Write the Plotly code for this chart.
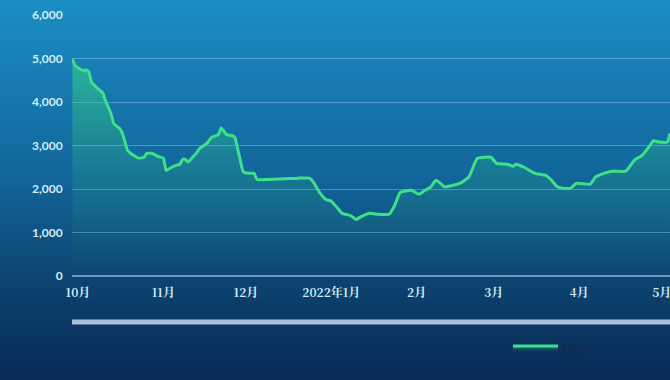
import base64
import plotly.graph_objects as go

# ---- data ----
dates = [
    "2021-09-29", "2021-09-30", "2021-10-01", "2021-10-03", "2021-10-04", "2021-10-05",
    "2021-10-06", "2021-10-08", "2021-10-10", "2021-10-11", "2021-10-13", "2021-10-14",
    "2021-10-16", "2021-10-17", "2021-10-18", "2021-10-19", "2021-10-21", "2021-10-23",
    "2021-10-25", "2021-10-26", "2021-10-28", "2021-10-30", "2021-11-01", "2021-11-02",
    "2021-11-03", "2021-11-05", "2021-11-07", "2021-11-08", "2021-11-09", "2021-11-10",
    "2021-11-12", "2021-11-13", "2021-11-14", "2021-11-17", "2021-11-18", "2021-11-19",
    "2021-11-21", "2021-11-22", "2021-11-24", "2021-11-26", "2021-11-27", "2021-11-28",
    "2021-11-29", "2021-11-30", "2021-12-02", "2021-12-04", "2021-12-05", "2021-12-09",
    "2021-12-17", "2021-12-20", "2021-12-24", "2021-12-25", "2021-12-28", "2021-12-30",
    "2022-01-01", "2022-01-03", "2022-01-05", "2022-01-08", "2022-01-10", "2022-01-12",
    "2022-01-15", "2022-01-18", "2022-01-22", "2022-01-24", "2022-01-26", "2022-01-30",
    "2022-02-02", "2022-02-04", "2022-02-06", "2022-02-08", "2022-02-10", "2022-02-11",
    "2022-02-14", "2022-02-17", "2022-02-20", "2022-02-23", "2022-02-28", "2022-03-02",
    "2022-03-06", "2022-03-08", "2022-03-09", "2022-03-12", "2022-03-16", "2022-03-20",
    "2022-03-22", "2022-03-24", "2022-03-26", "2022-03-29", "2022-03-31", "2022-04-05",
    "2022-04-07", "2022-04-10", "2022-04-13", "2022-04-18", "2022-04-21", "2022-04-24",
    "2022-04-26", "2022-04-28", "2022-04-30", "2022-05-03", "2022-05-04",
]
bdi = [
    4980, 4830, 4790, 4720, 4740, 4680,
    4440, 4320, 4210, 4030, 3730, 3500,
    3400, 3300, 3100, 2890, 2780, 2710,
    2730, 2820, 2820, 2750, 2710, 2430,
    2460, 2530, 2570, 2680, 2680, 2620,
    2760, 2820, 2920, 3060, 3150, 3200,
    3250, 3400, 3250, 3230, 3180, 2920,
    2650, 2400, 2360, 2360, 2220, 2220,
    2240, 2250, 2250, 2200, 1900, 1760,
    1720, 1580, 1440, 1390, 1300, 1370,
    1440, 1420, 1420, 1620, 1920, 1970,
    1880, 1970, 2040, 2200, 2110, 2050,
    2080, 2140, 2280, 2700, 2730, 2590,
    2570, 2520, 2570, 2500, 2360, 2310,
    2200, 2050, 2020, 2020, 2130, 2110,
    2280, 2360, 2410, 2410, 2660, 2780,
    2940, 3110, 3080, 3080, 3280,
]
month_ticks = ["2021-10-01", "2021-11-01", "2021-12-01", "2022-01-01",
               "2022-02-01", "2022-03-01", "2022-04-01", "2022-05-01"]
month_labels = ["10月", "11月", "12月", "2022年1月", "2月", "3月", "4月", "5月"]
y_ticks = [0, 1000, 2000, 3000, 4000, 5000, 6000]

# ---- layout geometry ----
W, H = 670, 380
ML, MR, MT, MB = 72, 0, 15, 104
PW, PH = W - ML - MR, H - MT - MB

svg = f"""<svg xmlns='http://www.w3.org/2000/svg' width='{W}' height='{H}' preserveAspectRatio='none'>
<defs><linearGradient id='g' x1='0' y1='0' x2='0' y2='1'>
<stop offset='0' stop-color='#1b8ec3'/>
<stop offset='0.45' stop-color='#12679c'/>
<stop offset='0.75' stop-color='#0c426f'/>
<stop offset='1' stop-color='#072a56'/>
</linearGradient></defs>
<rect width='{W}' height='{H}' fill='url(#g)'/></svg>"""
bg_src = "data:image/svg+xml;base64," + base64.b64encode(svg.encode()).decode()

fig = go.Figure()
fig.add_trace(go.Scatter(
    x=dates, y=bdi, name="BDI", mode="lines",
    line=dict(color="#3fe08a", width=3, shape="spline", smoothing=0.4),
    fill="tozeroy",
    fillgradient=dict(type="vertical", start=0, stop=5000,
                      colorscale=[[0, "rgba(50,200,120,0.0)"],
                                  [0.5, "rgba(50,200,120,0.20)"],
                                  [1, "rgba(60,220,130,0.55)"]]),
))

def py(px_y):
    return (MT + PH - px_y) / PH

fig.update_layout(
    width=W, height=H,
    margin=dict(l=ML, r=MR, t=MT, b=MB),
    paper_bgcolor="#0f5585",
    plot_bgcolor="rgba(0,0,0,0)",
    showlegend=True,
    legend=dict(orientation="h", x=(508 - ML) / PW, y=py(348), xanchor="left", yanchor="middle",
                itemwidth=45,
                bgcolor="rgba(0,0,0,0)", font=dict(color="#14284a", size=12, family="Lato")),
    images=[dict(source=bg_src, xref="paper", yref="paper",
                 x=-ML / PW, y=1 + MT / PH, sizex=W / PW, sizey=H / PH,
                 sizing="stretch", layer="below", xanchor="left", yanchor="top")],
    shapes=[dict(type="rect", xref="paper", yref="paper",
                 x0=0, x1=1, y0=py(324.5), y1=py(319.5),
                 fillcolor="#a9c0d6", line=dict(width=0), layer="above")],
    xaxis=dict(
        type="date",
        range=["2021-09-28 20:00", "2022-05-04"],
        tickvals=month_ticks, ticktext=month_labels,
        ticklabeloverflow="allow",
        showgrid=False, zeroline=False, showline=False,
        ticks="outside", ticklen=6, tickcolor="rgba(0,0,0,0)",
        tickfont=dict(color="#d2ecf6", size=12, family="Noto Serif CJK SC, Noto Sans CJK SC", weight="bold"),
    ),
    yaxis=dict(
        range=[0, 6000],
        tickvals=y_ticks, tickformat=",",
        showgrid=True, gridcolor="rgba(190,225,245,0.35)", gridwidth=1,
        zeroline=True, zerolinecolor="rgba(190,225,245,0.55)", zerolinewidth=2,
        showline=False,
        ticks="outside", ticklen=6, tickcolor="rgba(0,0,0,0)",
        tickfont=dict(color="#d2ecf6", size=12, family="Lato", weight="bold"),
    ),
)

fig.write_html("out.html")
